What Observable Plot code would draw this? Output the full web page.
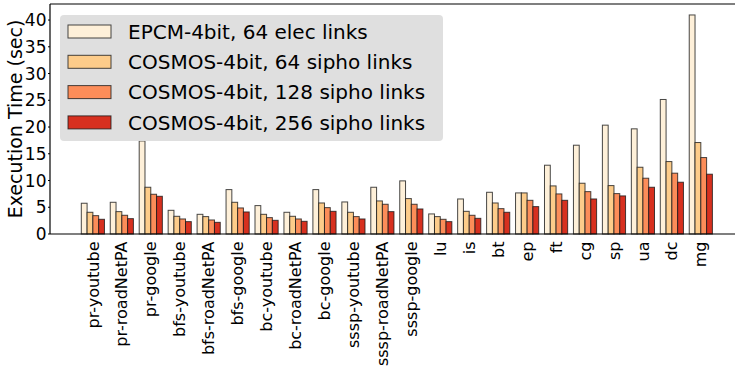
<!DOCTYPE html>
<html>
<head>
<meta charset="utf-8">
<script src="https://cdn.jsdelivr.net/npm/d3@7"></script>
<script src="https://cdn.jsdelivr.net/npm/@observablehq/plot@0.6"></script>
<style>
  body { margin: 0; background: #fff; }
  #chart svg { display: block; font-family: "DejaVu Sans", sans-serif; }
  #chart g[aria-label="fx-axis tick label"] { font-size: 16px; }
</style>
</head>
<body>
<div id="chart"></div>
<script>
// Benchmarks (graph kernels on three inputs, then NPB kernels)
const categories = [
  "pr-youtube", "pr-roadNetPA", "pr-google",
  "bfs-youtube", "bfs-roadNetPA", "bfs-google",
  "bc-youtube", "bc-roadNetPA", "bc-google",
  "sssp-youtube", "sssp-roadNetPA", "sssp-google",
  "lu", "is", "bt", "ep", "ft", "cg", "sp", "ua", "dc", "mg"
];

const series = [
  "EPCM-4bit, 64 elec links",
  "COSMOS-4bit, 64 sipho links",
  "COSMOS-4bit, 128 sipho links",
  "COSMOS-4bit, 256 sipho links"
];

// Execution time in seconds, one value per benchmark
const epcm64      = [5.75, 5.93, 17.4, 4.43, 3.68, 8.3, 5.31, 4.06, 8.3, 5.99, 8.74, 9.93, 3.75, 6.55, 7.8, 7.68, 12.86, 16.6, 20.35, 19.66, 25.15, 40.95];
const cosmos64    = [4.06, 4.18, 8.74, 3.31, 3.25, 5.93, 3.68, 3.31, 5.8, 4.06, 6.18, 6.62, 3.25, 4.24, 5.8, 7.68, 8.99, 9.49, 9.05, 12.48, 13.54, 17.1];
const cosmos128   = [3.43, 3.5, 7.43, 2.81, 2.62, 4.87, 3.06, 2.81, 4.93, 3.25, 5.56, 5.56, 2.75, 3.5, 4.74, 6.3, 7.49, 7.92, 7.55, 10.43, 11.37, 14.29];
const cosmos256   = [2.75, 2.87, 7.05, 2.31, 2.18, 4.12, 2.56, 2.37, 4.24, 2.81, 4.18, 4.68, 2.31, 2.93, 4.06, 5.12, 6.3, 6.55, 7.12, 8.74, 9.68, 11.18];

const colors = ["#fef0d9", "#fdcc8a", "#fc8d59", "#d7301f"];
const yTicks = [0, 5, 10, 15, 20, 25, 30, 35, 40];
const yLabel = "Execution Time (sec)";

const seriesValues = [epcm64, cosmos64, cosmos128, cosmos256];
const rows = categories.flatMap((category, i) =>
  seriesValues.map((values, j) => ({ category, series: series[j], value: values[i] }))
);

const chart = Plot.plot({
  width: 735,
  height: 378,
  marginTop: 4,
  marginLeft: 50,
  marginRight: 1,
  marginBottom: 144,
  style: { fontFamily: "DejaVu Sans, sans-serif", fontSize: "16px", color: "#000", background: "#fff" },
  fx: {
    domain: categories,
    axis: "bottom",
    range: [81.3, 712.4],
    round: false,
    paddingInner: 0.2,
    paddingOuter: 0,
    tickRotate: -90,
    tickSize: 0,
    tickPadding: 7,
    label: null
  },
  x: { domain: series, padding: 0, round: false, axis: null },
  y: { domain: [0, 43], axis: null },
  color: { domain: series, range: colors },
  marks: [
    Plot.barY(rows, {
      fx: "category",
      x: "series",
      y: "value",
      fill: "series",
      stroke: "#1a1a1a",
      strokeWidth: 1,
      strokeOpacity: 0.8
    })
  ]
});

document.getElementById("chart").appendChild(chart);

const svg = d3.select(chart);
const yScale = chart.scale("y");
const x0 = 50, x1 = 735, yTop = 4, yBottom = yScale.apply(0);

// Axes frame: top, left and bottom spines
const spines = svg.append("g").attr("stroke", "#000").attr("stroke-width", 1.2);
spines.append("line").attr("x1", x0).attr("x2", x1).attr("y1", yTop).attr("y2", yTop);
spines.append("line").attr("x1", x0).attr("x2", x0).attr("y1", yTop).attr("y2", yBottom);
spines.append("line").attr("x1", x0).attr("x2", x1).attr("y1", yBottom).attr("y2", yBottom);

// Value axis ticks and labels, placed with the chart's y scale
const yAxis = svg.append("g");
yAxis.append("g")
  .attr("stroke", "#000")
  .selectAll("line")
  .data(yTicks)
  .join("line")
  .attr("x1", x0 - 2).attr("x2", x0)
  .attr("y1", d => yScale.apply(d)).attr("y2", d => yScale.apply(d));
yAxis.append("g")
  .attr("text-anchor", "end")
  .attr("font-size", 17)
  .attr("fill", "#000")
  .selectAll("text")
  .data(yTicks)
  .join("text")
  .attr("x", x0 - 3.5)
  .attr("y", d => yScale.apply(d))
  .attr("dy", "0.36em")
  .text(d => d);

// Vertical axis title
svg.append("text")
  .attr("transform", `translate(15,${(yTop + yBottom) / 2}) rotate(-90)`)
  .attr("text-anchor", "middle")
  .attr("dy", "0.36em")
  .attr("font-size", 19)
  .attr("fill", "#000")
  .text(yLabel);

// Legend box in the upper-left corner of the plot area
const colorScale = chart.scale("color");
const legend = svg.append("g").attr("transform", "translate(60,15)");
legend.append("rect")
  .attr("width", 383).attr("height", 126).attr("rx", 4)
  .attr("fill", "#dddddd").attr("fill-opacity", 0.95);
series.forEach((name, i) => {
  const cy = 16.5 + i * 30.3;
  legend.append("rect")
    .attr("x", 8).attr("y", cy - 6.5).attr("width", 43).attr("height", 13)
    .attr("fill", colorScale.apply(name))
    .attr("stroke", "#1a1a1a").attr("stroke-opacity", 0.8).attr("stroke-width", 1);
  legend.append("text")
    .attr("x", 68).attr("y", cy).attr("dy", "0.36em")
    .attr("text-anchor", "start")
    .attr("font-size", 20).attr("fill", "#000")
    .text(name);
});
</script>
</body>
</html>
